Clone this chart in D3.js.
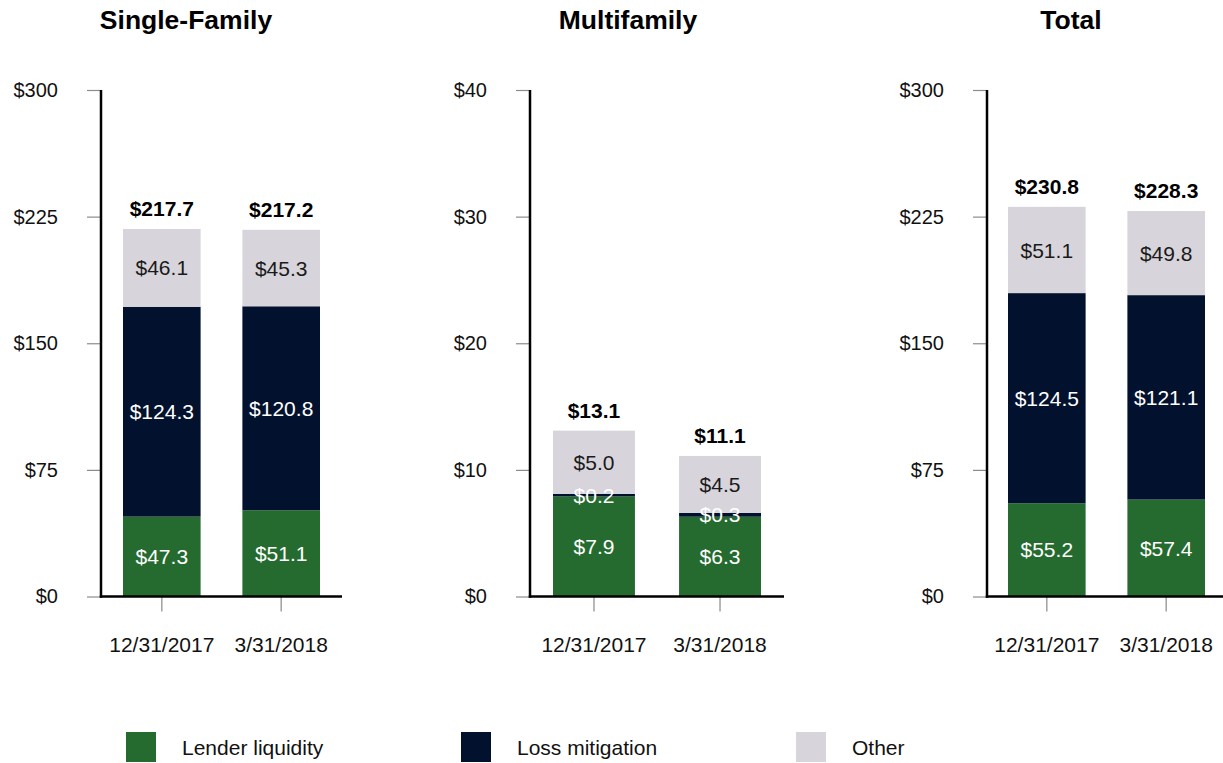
<!DOCTYPE html>
<html>
<head>
<meta charset="utf-8">
<script src="https://cdn.jsdelivr.net/npm/d3@7"></script>
<style>
  body { margin: 0; background: #fff; }
  svg { display: block; font-family: "Liberation Sans", Arial, sans-serif; }
</style>
</head>
<body>
<div id="chart"></div>
<script>
// ---- data ----
const dates = ['12/31/2017', '3/31/2018'];
const seriesNames = ['Lender liquidity', 'Loss mitigation', 'Other'];
const panelTitles = ['Single-Family', 'Multifamily', 'Total'];

const singleFamily = { lender: [47.3, 51.1], loss: [124.3, 120.8], other: [46.1, 45.3], total: [217.7, 217.2] };
const multifamily  = { lender: [7.9, 6.3],   loss: [0.2, 0.3],     other: [5.0, 4.5],   total: [13.1, 11.1] };
const total        = { lender: [55.2, 57.4], loss: [124.5, 121.1], other: [51.1, 49.8], total: [230.8, 228.3] };

const yTicksBig = [0, 75, 150, 225, 300];
const yTicksSmall = [0, 10, 20, 30, 40];

const colors = ['#256b2f', '#02122e', '#d7d5db'];
const labelColors = ['#ffffff', '#ffffff', '#1a1a1a'];

document.addEventListener('DOMContentLoaded', function() {
  const width = 1223, height = 763;
  const baseY = 596.5, topY = 90;

  const svg = d3.select('#chart').append('svg')
    .attr('width', width)
    .attr('height', height);

  // layout for each panel (axis x, end of baseline, band range, title centre)
  const panels = [
    { title: panelTitles[0], data: singleFamily, max: 300, ticks: yTicksBig,   axisX: 101, endX: 342,  band: [123, 320],  titleX: 186 },
    { title: panelTitles[1], data: multifamily,  max: 40,  ticks: yTicksSmall, axisX: 530, endX: 784,  band: [553, 761],  titleX: 628 },
    { title: panelTitles[2], data: total,        max: 300, ticks: yTicksBig,   axisX: 987, endX: 1223, band: [1008, 1205], titleX: 1071 }
  ];

  panels.forEach(p => {
    const g = svg.append('g');

    const y = d3.scaleLinear().domain([0, p.max]).range([baseY, topY]);
    const x = d3.scaleBand().domain(dates).range(p.band).paddingInner(0.35).paddingOuter(0);

    // title
    g.append('text')
      .attr('x', p.titleX)
      .attr('y', 29)
      .attr('text-anchor', 'middle')
      .attr('font-size', 26.5)
      .attr('font-weight', 'bold')
      .attr('fill', '#000')
      .text(p.title);

    // y axis ticks + labels
    const yAxis = d3.axisLeft(y).tickValues(p.ticks).tickSize(14).tickPadding(29)
      .tickFormat(d => '$' + d);
    const ya = g.append('g').attr('transform', `translate(${p.axisX},0)`).call(yAxis);
    ya.select('.domain').remove();
    ya.selectAll('.tick line').attr('stroke', '#8c8c8c').attr('stroke-width', 1.2);
    ya.selectAll('.tick text').attr('font-size', 20).attr('fill', '#111')
      .attr('font-family', '"Liberation Sans", Arial, sans-serif');

    // x axis ticks + labels
    const xAxis = d3.axisBottom(x).tickSize(15).tickPadding(26);
    const xa = g.append('g').attr('transform', `translate(0,${baseY})`).call(xAxis);
    xa.select('.domain').remove();
    xa.selectAll('.tick line').attr('stroke', '#a0a0a0').attr('stroke-width', 1.5);
    xa.selectAll('.tick text').attr('font-size', 21).attr('fill', '#111')
      .attr('font-family', '"Liberation Sans", Arial, sans-serif');

    // stacked bars
    const rows = dates.map((d, i) => ({
      date: d,
      lender: p.data.lender[i],
      loss: p.data.loss[i],
      other: p.data.other[i],
      total: p.data.total[i]
    }));
    const keys = ['lender', 'loss', 'other'];
    const stacked = d3.stack().keys(keys)(rows);

    stacked.forEach((layer, li) => {
      g.append('g').selectAll('rect')
        .data(layer)
        .join('rect')
        .attr('x', d => x(d.data.date))
        .attr('width', x.bandwidth())
        .attr('y', d => y(d[1]))
        .attr('height', d => y(d[0]) - y(d[1]))
        .attr('fill', colors[li]);
    });

    stacked.forEach((layer, li) => {
      g.append('g').selectAll('text')
        .data(layer)
        .join('text')
        .attr('x', d => x(d.data.date) + x.bandwidth() / 2)
        .attr('y', d => (y(d[0]) + y(d[1])) / 2)
        .attr('dy', '0.36em')
        .attr('text-anchor', 'middle')
        .attr('font-size', 21)
        .attr('fill', labelColors[li])
        .text(d => '$' + d.data[keys[li]].toFixed(1));
    });

    // totals on top
    g.append('g').selectAll('text')
      .data(rows)
      .join('text')
      .attr('x', d => x(d.date) + x.bandwidth() / 2)
      .attr('y', d => y(d.total) - 13)
      .attr('text-anchor', 'middle')
      .attr('font-size', 21)
      .attr('font-weight', 'bold')
      .attr('fill', '#000')
      .text(d => '$' + d.total.toFixed(1));

    // axis lines
    g.append('line')
      .attr('x1', p.axisX).attr('x2', p.axisX)
      .attr('y1', topY).attr('y2', baseY + 1.2)
      .attr('stroke', '#000').attr('stroke-width', 2.5);
    g.append('line')
      .attr('x1', p.axisX - 1.2).attr('x2', p.endX)
      .attr('y1', baseY).attr('y2', baseY)
      .attr('stroke', '#000').attr('stroke-width', 2.5);
  });

  // legend
  const legendX = [126, 461, 796];
  const legend = svg.append('g');
  seriesNames.forEach((name, i) => {
    legend.append('rect')
      .attr('x', legendX[i]).attr('y', 732)
      .attr('width', 30).attr('height', 30)
      .attr('fill', colors[i]);
    legend.append('text')
      .attr('x', legendX[i] + 56).attr('y', 755)
      .attr('font-size', 21)
      .attr('fill', '#111')
      .text(name);
  });
});
</script>
</body>
</html>
